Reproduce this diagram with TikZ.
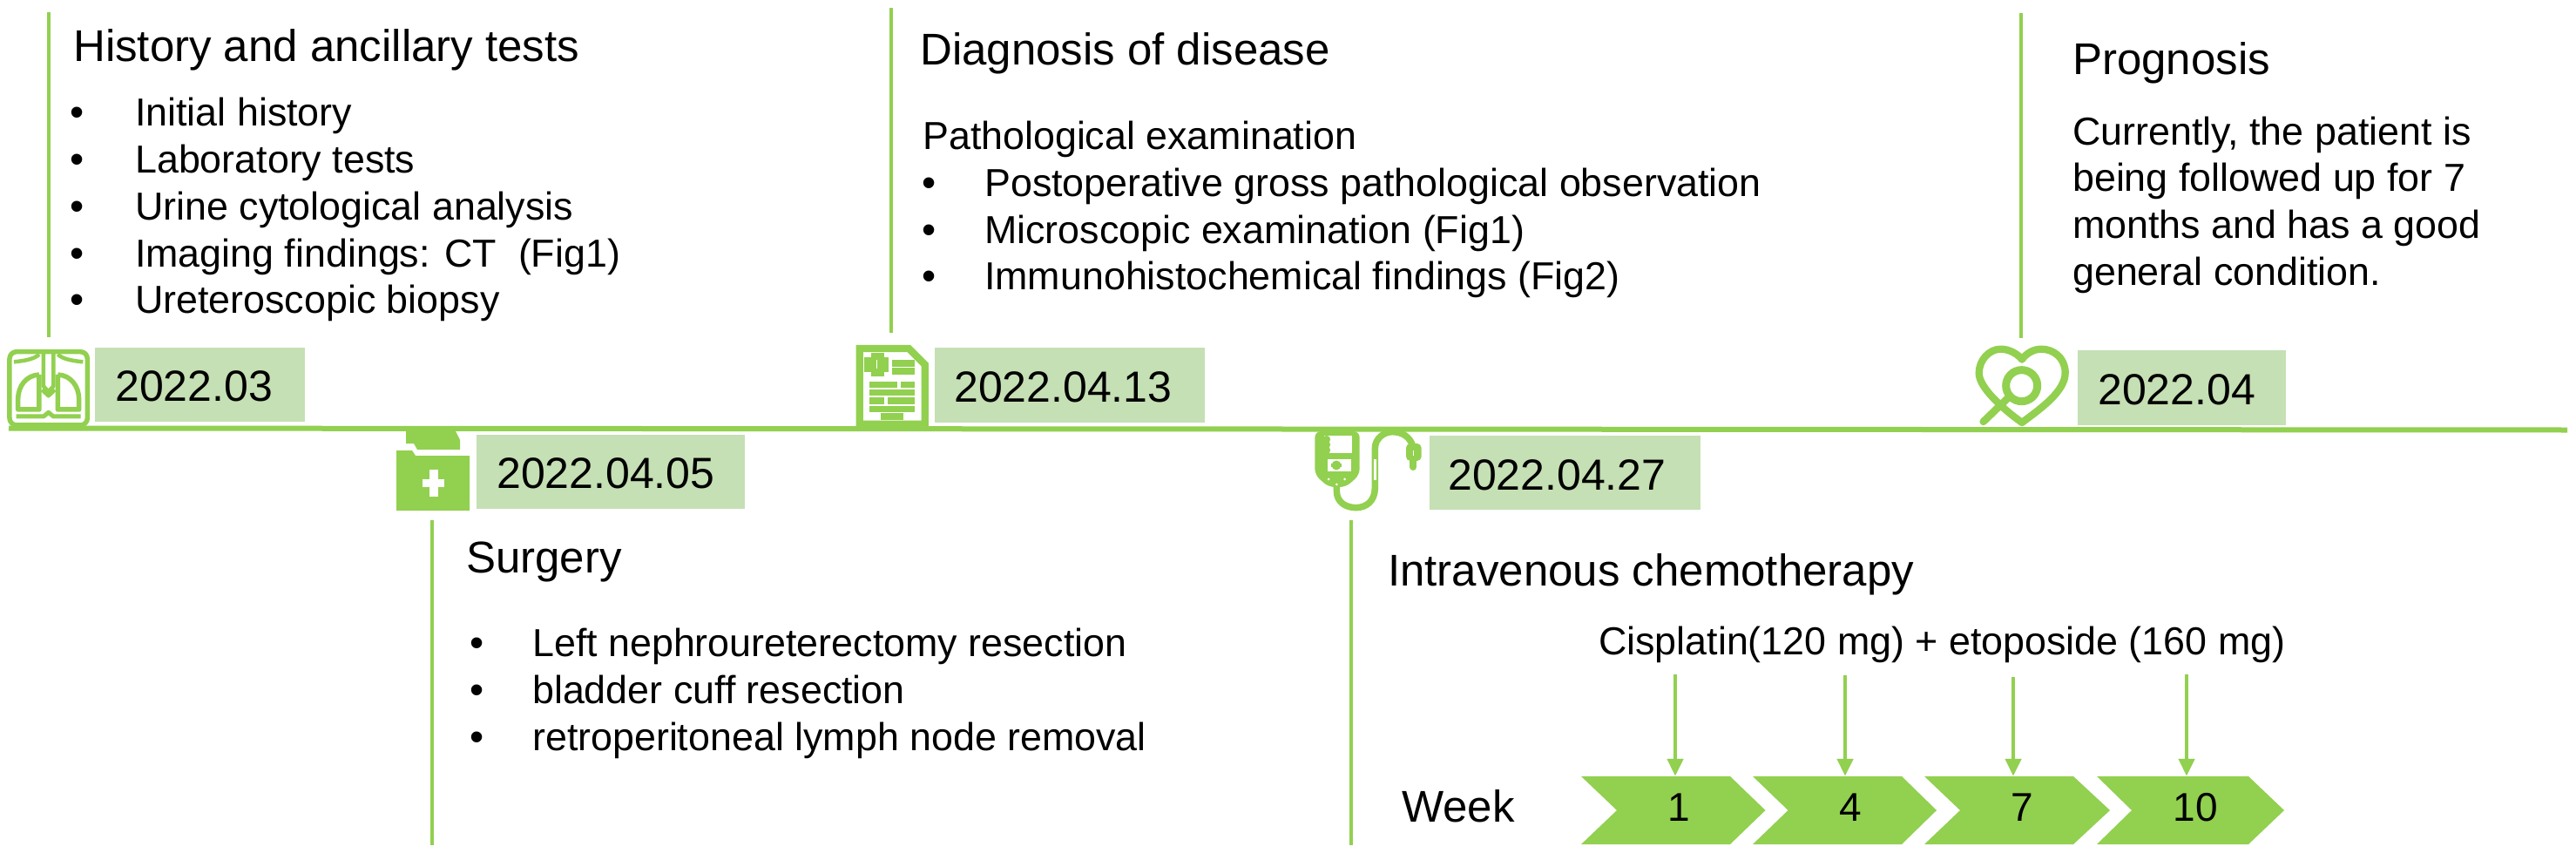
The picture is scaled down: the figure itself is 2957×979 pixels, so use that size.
\documentclass[tikz,border=0pt]{standalone}
\usepackage{fontspec}
\setmainfont{Liberation Sans}
\usetikzlibrary{arrows.meta}
\definecolor{grn}{HTML}{92D050}
\definecolor{datebg}{HTML}{C5E0B4}
\tikzset{
  every node/.style={text=black},
  head/.style={anchor=base west,inner sep=0pt,font=\fontsize{51}{60}\selectfont},
  body/.style={anchor=base west,inner sep=0pt,font=\fontsize{44.8}{53}\selectfont},
  bul/.style={anchor=base,inner sep=0pt,font=\fontsize{46}{48}\selectfont},
  datetxt/.style={anchor=base west,inner sep=0pt,font=\fontsize{50}{60}\selectfont},
  stem/.style={draw=grn,line width=3.6pt},
  mainline/.style={draw=grn,line width=6pt},
  arr/.style={draw=grn,line width=4.5pt,-{Triangle[width=18pt,length=20pt]}},
  chev/.style={fill=grn,draw=none},
  wk/.style={inner sep=0pt,minimum width=190pt,minimum height=71pt,font=\fontsize{46}{53}\selectfont},
  ico/.style={draw=grn,line join=round},
  izoom/.style={x=0.3333pt,y=-0.3333pt}
}
\begin{document}
\begin{tikzpicture}[x=1pt,y=-1pt]
\useasboundingbox[fill=white] (0,0) rectangle (2957,979);
% main axis
\coordinate (axL) at (10,491.5);
\coordinate (axR) at (2947,493.5);
\draw[mainline] (axL) -- (axR);
% stems
\coordinate (s1t) at (56,14);   \coordinate (s1b) at (56,387);
\coordinate (s2t) at (496,597); \coordinate (s2b) at (496,970);
\coordinate (s3t) at (1023,9);  \coordinate (s3b) at (1023,382);
\coordinate (s4t) at (1551,597);\coordinate (s4b) at (1551,970);
\coordinate (s5t) at (2320,15); \coordinate (s5b) at (2320,388);
\draw[stem] (s1t) -- (s1b);
\draw[stem] (s2t) -- (s2b);
\draw[stem] (s3t) -- (s3b);
\draw[stem] (s4t) -- (s4b);
\draw[stem] (s5t) -- (s5b);
% date boxes
\fill[datebg] (109,399) rectangle (350,484);
\fill[datebg] (547,499) rectangle (855,584);
\fill[datebg] (1073,399) rectangle (1383,485);
\fill[datebg] (1640.5,500) rectangle (1952,585);
\fill[datebg] (2385,402) rectangle (2624,488);
\node[datetxt] (d1) at (132,460) {2022.03};
\node[datetxt] (d2) at (570,560) {2022.04.05};
\node[datetxt] (d3) at (1095,461) {2022.04.13};
\node[datetxt] (d4) at (1662,562) {2022.04.27};
\node[datetxt] (d5) at (2408,464) {2022.04};
% --- lungs icon
\begin{scope}[shift={(0,390)},izoom]
  \draw[ico,line width=5.5pt,rounded corners=8pt] (33,41) rectangle (301,294);
  \draw[ico,line width=4.5pt] (48,76) .. controls (90,72) and (120,65) .. (135,50);
  \draw[ico,line width=4.5pt] (286,76) .. controls (244,72) and (214,65) .. (199,50);
  \draw[ico,line width=4.5pt] (150,45) -- (150,160) -- (167,178) -- (184,160) -- (184,45);
  \draw[ico,line width=4.5pt] (145,172) -- (167,193) -- (189,172);
  \draw[ico,line width=5.5pt] (135,120) .. controls (90,122) and (62,160) .. (62,205) -- (62,240) -- (135,240) -- (135,120);
  \draw[ico,line width=5.5pt] (199,120) .. controls (244,122) and (272,160) .. (272,205) -- (272,240) -- (199,240) -- (199,120);
  \draw[ico,line width=5pt] (56,264) -- (150,264) -- (167,250) -- (184,264) -- (278,264);
\end{scope}
% --- folder icon
\fill[grn] (466,495) -- (523,495) -- (528,505) -- (528,516) -- (479,516) -- (475,509) -- (466,509) -- cycle;
\fill[grn] (455,517) -- (473,517) -- (477,523) -- (539,523) -- (539,586) -- (455,586) -- cycle;
\fill[white] (492.5,539) rectangle (503,570);
\fill[white] (485,549.5) rectangle (510,559);
% --- report icon
\begin{scope}[shift={(975,390)},izoom]
  \draw[ico,line width=8.3pt,line join=miter] (35,30) -- (205,30) -- (260,85) -- (260,290) -- (35,290) -- cycle;
  \fill[grn] (52,60) rectangle (135,112);
  \fill[grn] (75,45) rectangle (120,125);
  \fill[white] (94,70) rectangle (97,100);
  \fill[grn] (148,70) rectangle (225,92);
  \fill[grn] (148,97) rectangle (225,120);
  \fill[grn] (68,143) rectangle (165,165);
  \fill[grn] (178,143) rectangle (225,165);
  \fill[grn] (68,170) rectangle (225,192);
  \fill[grn] (68,197) rectangle (120,222);
  \fill[grn] (132,197) rectangle (225,222);
  \fill[grn] (68,227) rectangle (225,250);
  \fill[grn] (108,253) rectangle (187,276);
\end{scope}
% --- infusion icon
\begin{scope}[shift={(1500,485)},izoom]
  \draw[ico,line width=7.5pt,line cap=round] (103,215) -- (103,235) .. controls (103,275) and (135,293) .. (170,293) .. controls (205,293) and (235,270) .. (235,225) -- (235,90) .. controls (235,55) and (265,32) .. (295,32) .. controls (330,32) and (355,50) .. (365,80);
  \fill[grn,rounded corners=7pt] (28,30) -- (182,30) -- (182,180) -- (135,222) -- (75,222) -- (28,180) -- cycle;
  \fill[white] (60,45) rectangle (155,105);
  \fill[grn] (68,58) circle[radius=4.5pt];
  \fill[grn] (68,76) circle[radius=4.5pt];
  \fill[grn] (68,95) circle[radius=4.5pt];
  \fill[white] (72,125) rectangle (152,168);
  \fill[grn] (102,147) circle[radius=5.5pt];
  \fill[grn] (84,140) rectangle (120,154);
  \fill[white] (75,195) circle[radius=1.5pt];
  \fill[white] (103,213) circle[radius=1.5pt];
  \fill[white] (131,195) circle[radius=1.5pt];
  \fill[white] (230,125) rectangle (240,197);
  \fill[grn,rounded corners=5pt] (342,72) rectangle (395,132);
  \fill[white] (365,95) rectangle (369,115);
  \draw[ico,line width=8pt,line cap=round] (367,130) -- (367,153);
\end{scope}
% --- heart icon
\begin{scope}[shift={(2260,390)},izoom]
  \draw[ico,line width=8.3pt] (183,285) .. controls (250,235) and (335,175) .. (332,110) .. controls (330,60) and (290,32) .. (250,32) .. controls (220,32) and (195,50) .. (183,68) .. controls (170,50) and (140,32) .. (110,32) .. controls (70,32) and (35,70) .. (35,115) .. controls (35,165) and (120,240) .. (183,285) -- cycle;
  \draw[ico,line width=9pt] (182,158) circle[radius=18pt];
  \draw[ico,line width=8.5pt,line cap=round] (135,200) -- (50,282);
\end{scope}
% --- texts
\node[head] (t1) at (84,71) {History and ancillary tests};
\node[bul] (b11) at (89,144) {•}; \node[body] (i11) at (155,144) {Initial history};
\node[bul] (b12) at (89,198) {•}; \node[body] (i12) at (155,198) {Laboratory tests};
\node[bul] (b13) at (89,252) {•}; \node[body] (i13) at (155,252) {Urine cytological analysis};
\node[bul] (b14) at (89,306) {•}; \node[body] (i14) at (155,306) {Imaging findings: CT\ \ (Fig1)};
\node[bul] (b15) at (89,359) {•}; \node[body] (i15) at (155,359) {Ureteroscopic biopsy};
\node[head] (t3) at (1056,75) {Diagnosis of disease};
\node[body] (p3) at (1059,171) {Pathological examination};
\node[bul] (b31) at (1067,225) {•}; \node[body] (i31) at (1130,225) {Postoperative gross pathological observation};
\node[bul] (b32) at (1067,279) {•}; \node[body] (i32) at (1130,279) {Microscopic examination (Fig1)};
\node[bul] (b33) at (1067,332) {•}; \node[body] (i33) at (1130,332) {Immunohistochemical findings (Fig2)};
\node[head] (t5) at (2379,86) {Prognosis};
\node[body] (l51) at (2379,166) {Currently, the patient is};
\node[body] (l52) at (2379,219) {being followed up for 7};
\node[body] (l53) at (2379,273) {months and has a good};
\node[body] (l54) at (2379,327) {general condition.};
\node[head] (t2) at (535,657) {Surgery};
\node[bul] (b21) at (548,753) {•}; \node[body] (i21) at (611,753) {Left nephroureterectomy resection};
\node[bul] (b22) at (548,807) {•}; \node[body] (i22) at (611,807) {bladder cuff resection};
\node[bul] (b23) at (548,861) {•}; \node[body] (i23) at (611,861) {retroperitoneal lymph node removal};
\node[head] (t4) at (1593,672) {Intravenous chemotherapy};
\node[body] (cis) at (1835,751) {Cisplatin(120 mg) + etoposide (160 mg)};
\node[head] (wk) at (1609,943) {Week};
% --- week chevrons
\fill[chev] (1815,891) -- (1986,891) -- (2026.5,930) -- (1986,969) -- (1815,969) -- (1856,930) -- cycle;
\fill[chev] (2012,891) -- (2183,891) -- (2223,930) -- (2183,969) -- (2012,969) -- (2052.5,930) -- cycle;
\fill[chev] (2209,891) -- (2380,891) -- (2422,930) -- (2380,969) -- (2209,969) -- (2250,930) -- cycle;
\fill[chev] (2407,891) -- (2581,891) -- (2622,930) -- (2581,969) -- (2407,969) -- (2447,930) -- cycle;
\node[wk] (w1) at (1927,926.5) {1};
\node[wk] (w2) at (2124,926.5) {4};
\node[wk] (w3) at (2321,926.5) {7};
\node[wk] (w4) at (2520,926.5) {10};
\coordinate (a1) at (1923,774);
\coordinate (a2) at (2118,775);
\coordinate (a3) at (2311,777);
\coordinate (a4) at (2510,774);
\draw[arr] (a1) -- (a1 |- w1.north);
\draw[arr] (a2) -- (a2 |- w2.north);
\draw[arr] (a3) -- (a3 |- w3.north);
\draw[arr] (a4) -- (a4 |- w4.north);
\end{tikzpicture}
\end{document}
